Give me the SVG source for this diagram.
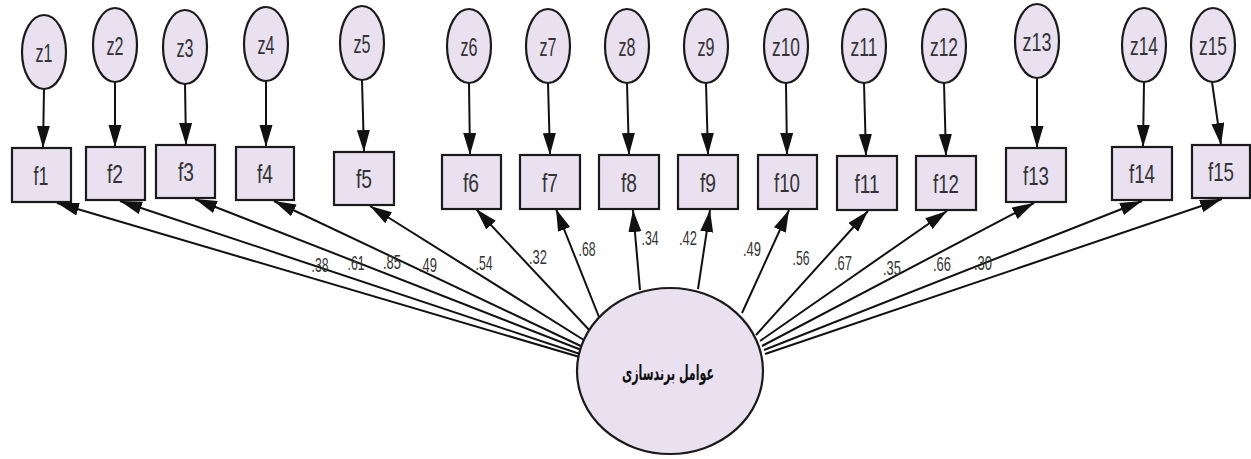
<svg xmlns="http://www.w3.org/2000/svg" width="1251" height="459" viewBox="0 0 1251 459">
<defs>
<marker id="ah" markerUnits="userSpaceOnUse" markerWidth="24" markerHeight="14" refX="22" refY="6.5" orient="auto">
<path d="M0,0 L22,6.5 L0,13 Z" fill="#111"/>
</marker>
<style>
.nd{fill:#e9e1f0;stroke:#1a1a1a;stroke-width:2.2}
.lb{font-family:"Liberation Sans Narrow","Liberation Sans",Arial,sans-serif;font-size:26px;fill:#333;text-anchor:middle}
.w{font-family:"Liberation Sans Narrow","Liberation Sans",Arial,sans-serif;font-size:21px;fill:#333;text-anchor:middle}
.cn line{stroke:#111;stroke-width:2;marker-end:url(#ah)}
</style>
</defs>
<rect width="1251" height="459" fill="#ffffff"/>
<g class="cn" id="connectors">
<line x1="44" y1="89" x2="43" y2="148"/>
<line x1="115" y1="82" x2="115" y2="147"/>
<line x1="185" y1="84" x2="186" y2="145"/>
<line x1="266" y1="81" x2="266" y2="147"/>
<line x1="362" y1="80" x2="364" y2="152"/>
<line x1="469" y1="83" x2="470" y2="155"/>
<line x1="548" y1="83" x2="550" y2="155"/>
<line x1="627" y1="83" x2="629" y2="155"/>
<line x1="706" y1="83" x2="708" y2="155"/>
<line x1="786" y1="83" x2="787" y2="155"/>
<line x1="864" y1="83" x2="866" y2="156"/>
<line x1="944" y1="83" x2="946" y2="156"/>
<line x1="1037" y1="78" x2="1037" y2="148"/>
<line x1="1144" y1="82" x2="1143" y2="147"/>
<line x1="1212" y1="82" x2="1221" y2="145"/>
<line x1="583" y1="358" x2="57" y2="203"/>
<line x1="583" y1="355" x2="120" y2="201"/>
<line x1="584" y1="351" x2="195" y2="199"/>
<line x1="585" y1="348" x2="274" y2="201"/>
<line x1="587" y1="342" x2="370" y2="206"/>
<line x1="592" y1="333" x2="476" y2="209"/>
<line x1="599" y1="317" x2="556" y2="209"/>
<line x1="640" y1="290" x2="633" y2="210"/>
<line x1="698" y1="289" x2="710" y2="210"/>
<line x1="742" y1="313" x2="789" y2="210"/>
<line x1="756" y1="335" x2="868" y2="211"/>
<line x1="760" y1="341" x2="947" y2="211"/>
<line x1="762" y1="346" x2="1034" y2="203"/>
<line x1="764" y1="350" x2="1142" y2="201"/>
<line x1="765" y1="354" x2="1222" y2="199"/>
</g>
<g id="z1"><ellipse class="nd" cx="44" cy="52" rx="22" ry="37"/><text class="lb" x="44" y="62" textLength="17" lengthAdjust="spacingAndGlyphs">z1</text></g>
<g id="z2"><ellipse class="nd" cx="115" cy="45" rx="22" ry="37"/><text class="lb" x="115" y="55" textLength="17" lengthAdjust="spacingAndGlyphs">z2</text></g>
<g id="z3"><ellipse class="nd" cx="185" cy="47" rx="22" ry="37"/><text class="lb" x="185" y="57" textLength="17" lengthAdjust="spacingAndGlyphs">z3</text></g>
<g id="z4"><ellipse class="nd" cx="266" cy="44" rx="22" ry="37"/><text class="lb" x="266" y="54" textLength="17" lengthAdjust="spacingAndGlyphs">z4</text></g>
<g id="z5"><ellipse class="nd" cx="362" cy="43" rx="22" ry="37"/><text class="lb" x="362" y="53" textLength="17" lengthAdjust="spacingAndGlyphs">z5</text></g>
<g id="z6"><ellipse class="nd" cx="469" cy="46" rx="22" ry="37"/><text class="lb" x="469" y="56" textLength="17" lengthAdjust="spacingAndGlyphs">z6</text></g>
<g id="z7"><ellipse class="nd" cx="548" cy="46" rx="22" ry="37"/><text class="lb" x="548" y="56" textLength="17" lengthAdjust="spacingAndGlyphs">z7</text></g>
<g id="z8"><ellipse class="nd" cx="627" cy="46" rx="22" ry="37"/><text class="lb" x="627" y="56" textLength="17" lengthAdjust="spacingAndGlyphs">z8</text></g>
<g id="z9"><ellipse class="nd" cx="706" cy="46" rx="22" ry="37"/><text class="lb" x="706" y="56" textLength="17" lengthAdjust="spacingAndGlyphs">z9</text></g>
<g id="z10"><ellipse class="nd" cx="786" cy="46" rx="22" ry="37"/><text class="lb" x="786" y="56" textLength="28" lengthAdjust="spacingAndGlyphs">z10</text></g>
<g id="z11"><ellipse class="nd" cx="864" cy="46" rx="22" ry="37"/><text class="lb" x="864" y="56" textLength="27" lengthAdjust="spacingAndGlyphs">z11</text></g>
<g id="z12"><ellipse class="nd" cx="944" cy="46" rx="22" ry="37"/><text class="lb" x="944" y="56" textLength="28" lengthAdjust="spacingAndGlyphs">z12</text></g>
<g id="z13"><ellipse class="nd" cx="1037" cy="41" rx="22" ry="37"/><text class="lb" x="1037" y="51" textLength="29" lengthAdjust="spacingAndGlyphs">z13</text></g>
<g id="z14"><ellipse class="nd" cx="1144" cy="45" rx="22" ry="37"/><text class="lb" x="1144" y="55" textLength="28" lengthAdjust="spacingAndGlyphs">z14</text></g>
<g id="z15"><ellipse class="nd" cx="1213" cy="45" rx="22" ry="37"/><text class="lb" x="1213" y="55" textLength="28" lengthAdjust="spacingAndGlyphs">z15</text></g>
<g id="f1"><rect class="nd" x="12" y="148" width="59" height="54"/><text class="lb" x="41" y="185" textLength="15" lengthAdjust="spacingAndGlyphs">f1</text></g>
<g id="f2"><rect class="nd" x="86" y="147" width="59" height="53"/><text class="lb" x="115" y="183" textLength="16" lengthAdjust="spacingAndGlyphs">f2</text></g>
<g id="f3"><rect class="nd" x="156" y="145" width="59" height="53"/><text class="lb" x="186" y="181" textLength="16" lengthAdjust="spacingAndGlyphs">f3</text></g>
<g id="f4"><rect class="nd" x="236" y="147" width="58" height="53"/><text class="lb" x="265" y="183" textLength="16" lengthAdjust="spacingAndGlyphs">f4</text></g>
<g id="f5"><rect class="nd" x="334" y="152" width="60" height="53"/><text class="lb" x="364" y="188" textLength="16" lengthAdjust="spacingAndGlyphs">f5</text></g>
<g id="f6"><rect class="nd" x="442" y="155" width="59" height="54"/><text class="lb" x="471" y="192" textLength="16" lengthAdjust="spacingAndGlyphs">f6</text></g>
<g id="f7"><rect class="nd" x="520" y="155" width="60" height="54"/><text class="lb" x="550" y="192" textLength="16" lengthAdjust="spacingAndGlyphs">f7</text></g>
<g id="f8"><rect class="nd" x="599" y="155" width="60" height="54"/><text class="lb" x="629" y="192" textLength="16" lengthAdjust="spacingAndGlyphs">f8</text></g>
<g id="f9"><rect class="nd" x="678" y="155" width="60" height="54"/><text class="lb" x="708" y="192" textLength="16" lengthAdjust="spacingAndGlyphs">f9</text></g>
<g id="f10"><rect class="nd" x="758" y="155" width="59" height="54"/><text class="lb" x="787" y="192" textLength="26" lengthAdjust="spacingAndGlyphs">f10</text></g>
<g id="f11"><rect class="nd" x="837" y="156" width="60" height="54"/><text class="lb" x="867" y="193" textLength="25" lengthAdjust="spacingAndGlyphs">f11</text></g>
<g id="f12"><rect class="nd" x="916" y="156" width="60" height="54"/><text class="lb" x="946" y="193" textLength="26" lengthAdjust="spacingAndGlyphs">f12</text></g>
<g id="f13"><rect class="nd" x="1006" y="148" width="60" height="54"/><text class="lb" x="1036" y="185" textLength="26" lengthAdjust="spacingAndGlyphs">f13</text></g>
<g id="f14"><rect class="nd" x="1112" y="147" width="60" height="53"/><text class="lb" x="1142" y="183" textLength="26" lengthAdjust="spacingAndGlyphs">f14</text></g>
<g id="f15"><rect class="nd" x="1192" y="145" width="58" height="53"/><text class="lb" x="1221" y="181" textLength="26" lengthAdjust="spacingAndGlyphs">f15</text></g>
<g id="main"><ellipse class="nd" cx="670" cy="371" rx="93" ry="83"/><text x="668" y="380" text-anchor="middle" font-family="'DejaVu Sans','Noto Sans',sans-serif" font-weight="bold" font-size="21" fill="#111" direction="rtl" textLength="92" lengthAdjust="spacingAndGlyphs">عوامل برندسازی</text></g>
<g id="weights">
<text class="w" x="320" y="272" textLength="17" lengthAdjust="spacingAndGlyphs">.38</text>
<text class="w" x="356" y="270" textLength="17" lengthAdjust="spacingAndGlyphs">.61</text>
<text class="w" x="392" y="269" textLength="18" lengthAdjust="spacingAndGlyphs">.85</text>
<text class="w" x="428" y="272" textLength="18" lengthAdjust="spacingAndGlyphs">.49</text>
<text class="w" x="484" y="270" textLength="17" lengthAdjust="spacingAndGlyphs">.54</text>
<text class="w" x="538" y="264" textLength="18" lengthAdjust="spacingAndGlyphs">.32</text>
<text class="w" x="587" y="256" textLength="17" lengthAdjust="spacingAndGlyphs">.68</text>
<text class="w" x="650" y="245" textLength="17" lengthAdjust="spacingAndGlyphs">.34</text>
<text class="w" x="688" y="245" textLength="18" lengthAdjust="spacingAndGlyphs">.42</text>
<text class="w" x="752" y="256" textLength="18" lengthAdjust="spacingAndGlyphs">.49</text>
<text class="w" x="801" y="265" textLength="17" lengthAdjust="spacingAndGlyphs">.56</text>
<text class="w" x="843" y="270" textLength="18" lengthAdjust="spacingAndGlyphs">.67</text>
<text class="w" x="892" y="275" textLength="18" lengthAdjust="spacingAndGlyphs">.35</text>
<text class="w" x="942" y="271" textLength="18" lengthAdjust="spacingAndGlyphs">.66</text>
<text class="w" x="983" y="270" textLength="18" lengthAdjust="spacingAndGlyphs">.30</text>
</g>
</svg>
